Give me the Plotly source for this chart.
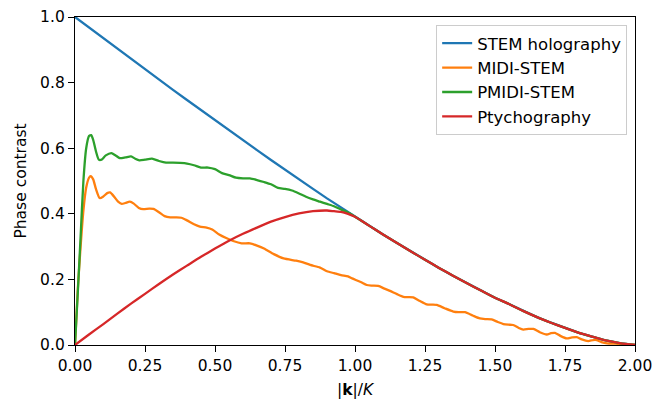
import plotly.graph_objects as go

# STEM holography
holo_k = [0.0, 0.05, 0.1, 0.15, 0.2, 0.25, 0.3, 0.35, 0.4, 0.45, 0.5, 0.55, 0.6, 0.65, 0.7,
          0.75, 0.8, 0.85, 0.9, 0.95, 1.0, 1.05, 1.1, 1.15, 1.2, 1.25, 1.3, 1.35, 1.4, 1.45,
          1.5, 1.55, 1.6, 1.65, 1.7, 1.75, 1.8, 1.85, 1.9, 1.95, 2.0]
holo_v = [1.0, 0.968, 0.936, 0.905, 0.873, 0.841, 0.810, 0.778, 0.747, 0.716, 0.685, 0.654,
          0.624, 0.594, 0.564, 0.534, 0.505, 0.476, 0.447, 0.419, 0.391, 0.364, 0.337, 0.311,
          0.285, 0.260, 0.235, 0.211, 0.188, 0.166, 0.144, 0.125, 0.104, 0.085, 0.068, 0.052,
          0.037, 0.025, 0.013, 0.005, 0.0]

# MIDI-STEM
midi_k = [0.0, 0.01, 0.02, 0.03, 0.04, 0.05, 0.056, 0.065, 0.075, 0.088, 0.1, 0.115, 0.125,
          0.14, 0.155, 0.167, 0.18, 0.196, 0.21, 0.228, 0.244, 0.265, 0.28, 0.3, 0.32, 0.34,
          0.36, 0.38, 0.4, 0.425, 0.446, 0.47, 0.49, 0.515, 0.54, 0.565, 0.595, 0.625, 0.65,
          0.675, 0.71, 0.745, 0.79, 0.815, 0.84, 0.875, 0.9, 0.925, 0.95, 0.975, 0.99, 1.02,
          1.042, 1.06, 1.083, 1.105, 1.125, 1.15, 1.173, 1.19, 1.208, 1.23, 1.256, 1.275,
          1.292, 1.32, 1.351, 1.37, 1.393, 1.42, 1.446, 1.465, 1.488, 1.51, 1.53, 1.548,
          1.565, 1.585, 1.601, 1.62, 1.637, 1.66, 1.685, 1.70, 1.714, 1.735, 1.756, 1.775,
          1.792, 1.81, 1.833, 1.85, 1.863, 1.88, 1.9, 1.93, 1.96, 2.0]
midi_v = [0.0, 0.17, 0.30, 0.41, 0.48, 0.51, 0.515, 0.505, 0.475, 0.448, 0.452, 0.463, 0.465,
          0.452, 0.436, 0.430, 0.433, 0.437, 0.431, 0.418, 0.414, 0.416, 0.415, 0.405, 0.393,
          0.389, 0.389, 0.388, 0.380, 0.368, 0.361, 0.358, 0.352, 0.337, 0.326, 0.317, 0.310,
          0.310, 0.303, 0.294, 0.277, 0.264, 0.257, 0.252, 0.244, 0.236, 0.225, 0.219, 0.213,
          0.209, 0.203, 0.192, 0.183, 0.181, 0.180, 0.172, 0.165, 0.155, 0.147, 0.146, 0.145,
          0.135, 0.124, 0.123, 0.122, 0.112, 0.102, 0.100, 0.100, 0.090, 0.081, 0.079, 0.078,
          0.070, 0.064, 0.062, 0.061, 0.052, 0.047, 0.049, 0.049, 0.039, 0.032, 0.036, 0.037,
          0.027, 0.020, 0.023, 0.024, 0.017, 0.012, 0.015, 0.015, 0.009, 0.005, 0.004, 0.002,
          0.0]

# PMIDI-STEM
pmidi_k = [0.0, 0.01, 0.02, 0.03, 0.04, 0.05, 0.058, 0.065, 0.075, 0.085, 0.095, 0.11, 0.13,
           0.145, 0.16, 0.18, 0.2, 0.215, 0.23, 0.25, 0.275, 0.3, 0.325, 0.35, 0.375, 0.4,
           0.425, 0.45, 0.475, 0.5, 0.525, 0.55, 0.575, 0.6, 0.625, 0.65, 0.675, 0.7, 0.725,
           0.75, 0.775, 0.8, 0.825, 0.85, 0.875, 0.9, 0.925, 0.95, 0.975, 1.0, 1.05, 1.1, 1.15,
           1.2, 1.25, 1.3, 1.35, 1.4, 1.45, 1.5, 1.55, 1.6, 1.65, 1.7, 1.75, 1.8, 1.85, 1.9,
           1.95, 2.0]
pmidi_v = [0.0, 0.16, 0.33, 0.50, 0.60, 0.637, 0.64, 0.625, 0.59, 0.565, 0.565, 0.578, 0.585,
           0.578, 0.570, 0.572, 0.575, 0.568, 0.563, 0.565, 0.568, 0.561, 0.556, 0.556, 0.555,
           0.553, 0.548, 0.541, 0.541, 0.536, 0.524, 0.518, 0.510, 0.508, 0.508, 0.503, 0.497,
           0.490, 0.479, 0.476, 0.471, 0.462, 0.452, 0.444, 0.437, 0.430, 0.423, 0.413, 0.404,
           0.391, 0.364, 0.337, 0.311, 0.285, 0.260, 0.235, 0.211, 0.188, 0.166, 0.144, 0.125,
           0.104, 0.085, 0.068, 0.052, 0.037, 0.025, 0.013, 0.005, 0.0]

# Ptychography
ptycho_k = [0.0, 0.05, 0.1, 0.15, 0.2, 0.25, 0.3, 0.35, 0.4, 0.45, 0.5, 0.55, 0.6, 0.65, 0.7,
            0.75, 0.8, 0.85, 0.9, 0.925, 0.95, 0.975, 1.0, 1.05, 1.1, 1.15, 1.2, 1.25, 1.3,
            1.35, 1.4, 1.45, 1.5, 1.55, 1.6, 1.65, 1.7, 1.75, 1.8, 1.85, 1.9, 1.95, 2.0]
ptycho_v = [0.0, 0.032, 0.063, 0.095, 0.126, 0.156, 0.186, 0.215, 0.242, 0.269, 0.294, 0.318,
            0.339, 0.358, 0.376, 0.390, 0.401, 0.408, 0.410, 0.408, 0.406, 0.400, 0.391, 0.364,
            0.337, 0.311, 0.285, 0.260, 0.235, 0.211, 0.188, 0.166, 0.144, 0.125, 0.104, 0.085,
            0.068, 0.052, 0.037, 0.025, 0.013, 0.005, 0.0]

x_ticks = [0.0, 0.25, 0.5, 0.75, 1.0, 1.25, 1.5, 1.75, 2.0]
y_ticks = [0.0, 0.2, 0.4, 0.6, 0.8, 1.0]

FONT = "DejaVu Sans"
LW = 2.3

fig = go.Figure()
fig.add_trace(go.Scatter(x=holo_k, y=holo_v, mode="lines", name="STEM holography",
                         line=dict(color="#1f77b4", width=LW)))
fig.add_trace(go.Scatter(x=midi_k, y=midi_v, mode="lines", name="MIDI-STEM",
                         line=dict(color="#ff7f0e", width=LW, shape="spline", smoothing=0.6)))
fig.add_trace(go.Scatter(x=pmidi_k, y=pmidi_v, mode="lines", name="PMIDI-STEM",
                         line=dict(color="#2ca02c", width=LW, shape="spline", smoothing=0.6)))
fig.add_trace(go.Scatter(x=ptycho_k, y=ptycho_v, mode="lines", name="Ptychography",
                         line=dict(color="#d62728", width=LW, shape="spline", smoothing=0.5)))

axis_common = dict(showline=True, linecolor="black", linewidth=1.3, mirror=True,
                   ticks="outside", ticklen=6, tickwidth=1.3, tickcolor="black",
                   showgrid=False, zeroline=False,
                   tickfont=dict(family=FONT, size=15.5, color="black"))

fig.update_xaxes(range=[0, 2], tickvals=x_ticks, tickformat=".2f",
                 title=dict(text="|<b>k</b>|/<i>K</i>", font=dict(family=FONT, size=15.5, color="black"),
                            standoff=10),
                 **axis_common)
fig.update_yaxes(range=[0, 1], tickvals=y_ticks, tickformat=".1f",
                 title=dict(text="Phase contrast", font=dict(family=FONT, size=15.5, color="black"),
                            standoff=9),
                 **axis_common)

fig.update_layout(
    width=655, height=399,
    margin=dict(l=75, r=20, t=17, b=54, autoexpand=False),
    paper_bgcolor="white", plot_bgcolor="white",
    font=dict(family=FONT, size=15.5, color="black"),
    legend=dict(x=0.986, y=0.976, xanchor="right", yanchor="top",
                bgcolor="rgba(255,255,255,0.8)", bordercolor="#cccccc", borderwidth=1,
                font=dict(family=FONT, size=16.5, color="black"),
                tracegroupgap=0),
    showlegend=True,
)

fig.write_html("out.html")
